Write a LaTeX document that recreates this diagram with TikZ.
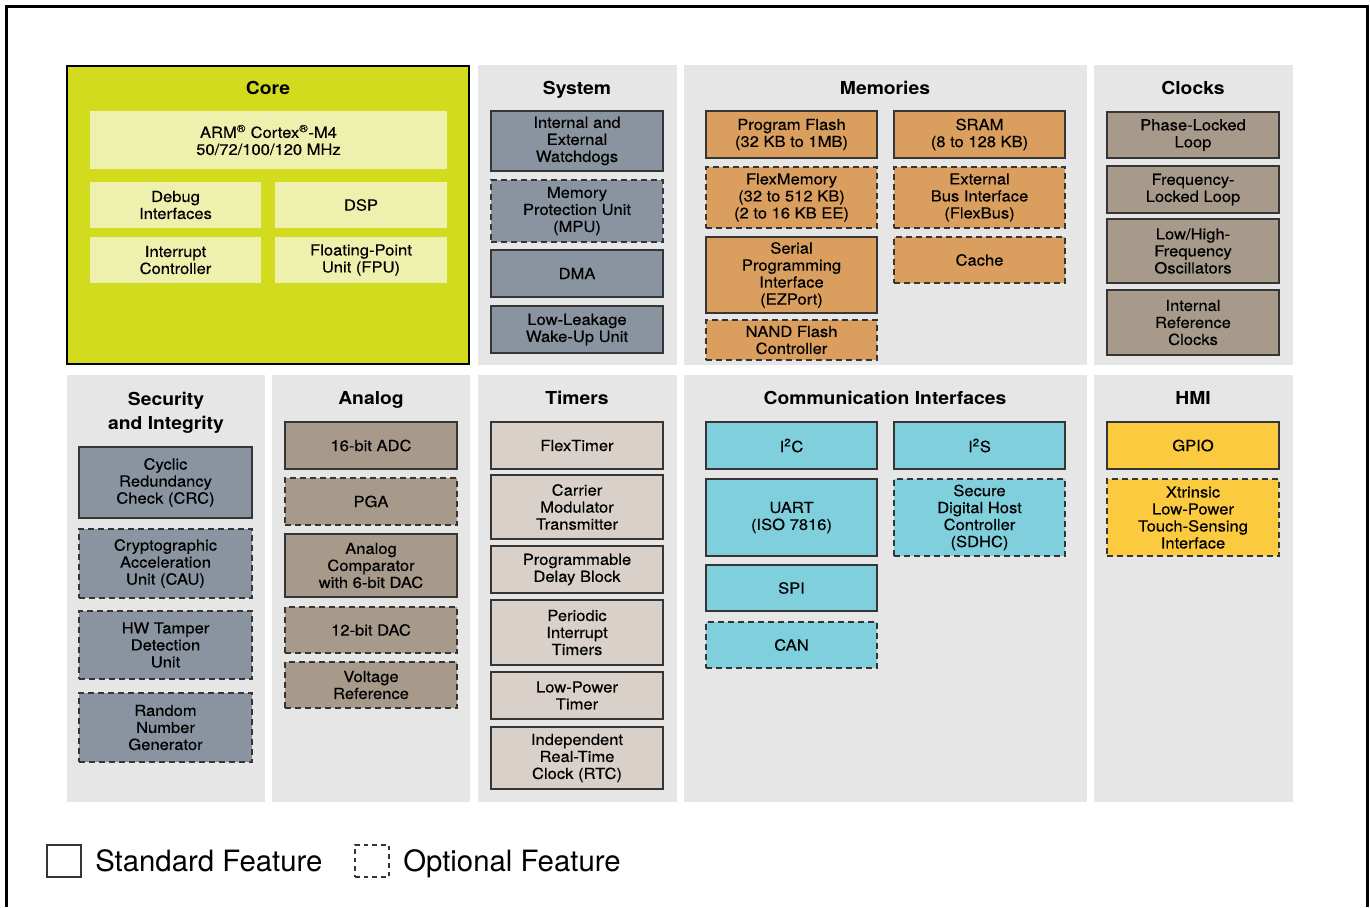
\documentclass[tikz,border=0pt]{standalone}
\usepackage{fontspec}
\setmainfont{TeX Gyre Heros}[FakeStretch=1.08]
\newfontfamily\boxfont{TeX Gyre Heros}[FakeStretch=1.08, FakeBold=0.3]
\newfontfamily\legfont{TeX Gyre Heros}
\definecolor{panelbg}{HTML}{E6E6E6}
\definecolor{coreY}{HTML}{D3DB1F}
\definecolor{corein}{HTML}{EEF1AE}
\definecolor{slate}{HTML}{8A94A0}
\definecolor{memor}{HTML}{DA9F5E}
\definecolor{taupe}{HTML}{A79A8B}
\definecolor{ltaupe}{HTML}{D8D0C9}
\definecolor{cyanb}{HTML}{80CFDC}
\definecolor{hmiy}{HTML}{FBCA3E}
\definecolor{bord}{HTML}{353535}
\newcommand\blk[7]{%
  \node[#2, minimum width={(#5-#3)*0.75pt}, minimum height={(#6-#4)*0.75pt}]
    (#1) at ({(#3+#5)/2},{(#4+#6)/2}) {#7};}
\newcommand\pnl[5]{%
  \fill[panelbg] (#2,#3) rectangle (#4,#5) coordinate (#1);}
\begin{document}
\begin{tikzpicture}[x=0.75pt,y=-0.75pt,
  boxtext/.style={align=center, inner sep=0pt, text=black,
    font=\boxfont\fontsize{11.5}{12.75}\selectfont},
  feat/.style={boxtext, draw=bord, line width=1.4pt},
  stdf/.style={feat},
  optf/.style={feat, dash pattern=on 4.5pt off 3pt},
  corebox/.style={boxtext, fill=corein},
  ttl/.style={align=center, inner sep=0pt, anchor=base, font=\bfseries\fontsize{13.4}{18}\selectfont},
  legtext/.style={anchor=base west, inner sep=0pt, font=\legfont\fontsize{22}{24}\selectfont}]
\useasboundingbox (0,0) rectangle (1370,907);
\fill[white] (0,0) rectangle (1370,907);
% outer frame
\draw[line width=2pt, black] (6.5,907) -- (6.5,6.5) -- (1367.5,6.5) -- (1367.5,907);
% panels
\pnl{pSys}{478}{65}{677}{365}
\pnl{pMem}{684}{65}{1087}{365}
\pnl{pClk}{1094}{65}{1293}{365}
\pnl{pSec}{67}{375}{265}{802}
\pnl{pAna}{272}{375}{470}{802}
\pnl{pTim}{478}{375}{677}{802}
\pnl{pCom}{684}{375}{1087}{802}
\pnl{pHmi}{1094}{375}{1293}{802}
\draw[fill=coreY, draw=black, line width=1.5pt] (67,66) rectangle (469,364);
% titles
\node[ttl] (tCore) at (268,94) {Core};
\node[ttl] (tSys) at (577,94) {System};
\node[ttl] (tMem) at (885,94) {Memories};
\node[ttl] (tClk) at (1193,94) {Clocks};
\node[ttl] (tSec) at (166,405) {Security};
\node[ttl] (tSec2) at (166,429) {and Integrity};
\node[ttl] (tAna) at (371,404) {Analog};
\node[ttl] (tTim) at (577,404) {Timers};
\node[ttl] (tCom) at (885,404) {Communication Interfaces};
\node[ttl] (tHmi) at (1193,404) {HMI};
% core
\blk{arm}{corebox}{90}{111}{447}{169}{ARM\textsuperscript{®} Cortex\textsuperscript{®}-M4\\50/72/100/120 MHz}
\blk{dbg}{corebox}{90}{182}{261}{228}{Debug\\Interfaces}
\blk{dsp}{corebox}{275}{182}{447}{228}{DSP}
\blk{intc}{corebox}{90}{237}{261}{283}{Interrupt\\Controller}
\blk{fpu}{corebox}{275}{237}{447}{283}{Floating-Point\\Unit (FPU)}
% system
\blk{wdog}{stdf,fill=slate}{491}{111}{663}{171}{Internal and\\External\\Watchdogs}
\blk{mpu}{optf,fill=slate}{491}{180}{663}{242}{Memory\\Protection Unit\\(MPU)}
\blk{dma}{stdf,fill=slate}{491}{250}{663}{297}{DMA}
\blk{llwu}{stdf,fill=slate}{491}{306}{663}{353}{Low-Leakage\\Wake-Up Unit}
% memories
\blk{pflash}{stdf,fill=memor}{706}{111}{877}{158}{Program Flash\\(32 KB to 1MB)}
\blk{sram}{stdf,fill=memor}{894}{111}{1065}{158}{SRAM\\(8 to 128 KB)}
\blk{flexm}{optf,fill=memor}{706}{167}{877}{228}{FlexMemory\\(32 to 512 KB)\\(2 to 16 KB EE)}
\blk{flexb}{optf,fill=memor}{894}{167}{1065}{228}{External\\Bus Interface\\(FlexBus)}
\blk{ezp}{stdf,fill=memor}{706}{237}{877}{313}{Serial\\Programming\\Interface\\(EZPort)}
\blk{cache}{optf,fill=memor}{894}{237}{1065}{283}{Cache}
\blk{nand}{optf,fill=memor}{706}{320}{877}{360}{NAND Flash\\Controller}
% clocks
\blk{pll}{stdf,fill=taupe}{1107}{112}{1279}{158}{Phase-Locked\\Loop}
\blk{fll}{stdf,fill=taupe}{1107}{166}{1279}{213}{Frequency-\\Locked Loop}
\blk{osc}{stdf,fill=taupe}{1107}{219}{1279}{283}{Low/High-\\Frequency\\Oscillators}
\blk{irc}{stdf,fill=taupe}{1107}{290}{1279}{355}{Internal\\Reference\\Clocks}
% security
\blk{crc}{stdf,fill=slate}{79}{447}{252}{518}{Cyclic\\Redundancy\\Check (CRC)}
\blk{cau}{optf,fill=slate}{79}{529}{252}{598}{Cryptographic\\Acceleration\\Unit (CAU)}
\blk{tamper}{optf,fill=slate}{79}{611}{252}{679}{HW Tamper\\Detection\\Unit}
\blk{rng}{optf,fill=slate}{79}{693}{252}{762}{Random\\Number\\Generator}
% analog
\blk{adc}{stdf,fill=taupe}{285}{422}{457}{469}{16-bit ADC}
\blk{pga}{optf,fill=taupe}{285}{478}{457}{525}{PGA}
\blk{cmp}{stdf,fill=taupe}{285}{534}{457}{597}{Analog\\Comparator\\with 6-bit DAC}
\blk{dac}{optf,fill=taupe}{285}{607}{457}{653}{12-bit DAC}
\blk{vref}{optf,fill=taupe}{285}{662}{457}{708}{Voltage\\Reference}
% timers
\blk{ftm}{stdf,fill=ltaupe}{491}{422}{663}{469}{FlexTimer}
\blk{cmt}{stdf,fill=ltaupe}{491}{475}{663}{539}{Carrier\\Modulator\\Transmitter}
\blk{pdb}{stdf,fill=ltaupe}{491}{546}{663}{593}{Programmable\\Delay Block}
\blk{pit}{stdf,fill=ltaupe}{491}{600}{663}{665}{Periodic\\Interrupt\\Timers}
\blk{lpt}{stdf,fill=ltaupe}{491}{672}{663}{719}{Low-Power\\Timer}
\blk{rtc}{stdf,fill=ltaupe}{491}{727}{663}{789}{Independent\\Real-Time\\Clock (RTC)}
% communication
\blk{iic}{stdf,fill=cyanb}{706}{422}{877}{469}{I\textsuperscript{2}C}
\blk{iis}{stdf,fill=cyanb}{894}{422}{1065}{469}{I\textsuperscript{2}S}
\blk{uart}{stdf,fill=cyanb}{706}{479}{877}{556}{UART\\(ISO 7816)}
\blk{sdhc}{optf,fill=cyanb}{894}{479}{1065}{556}{Secure\\Digital Host\\Controller\\(SDHC)}
\blk{spi}{stdf,fill=cyanb}{706}{565}{877}{611}{SPI}
\blk{can}{optf,fill=cyanb}{706}{622}{877}{668}{CAN}
% HMI
\blk{gpio}{stdf,fill=hmiy}{1107}{422}{1279}{469}{GPIO}
\blk{tsi}{optf,fill=hmiy}{1107}{479}{1279}{556}{Xtrinsic\\Low-Power\\Touch-Sensing\\Interface}
% legend
\blk{lgS}{draw=bord, line width=1.4pt, fill=white, inner sep=0pt}{47}{845}{81}{877}{}
\node[legtext] (lgSt) at (95,871) {Standard Feature};
\blk{lgO}{draw=bord, line width=1.4pt, dash pattern=on 3.5pt off 3pt, fill=white, inner sep=0pt}{355}{845}{389}{877}{}
\node[legtext] (lgOt) at (403,871) {Optional Feature};
\end{tikzpicture}
\end{document}
